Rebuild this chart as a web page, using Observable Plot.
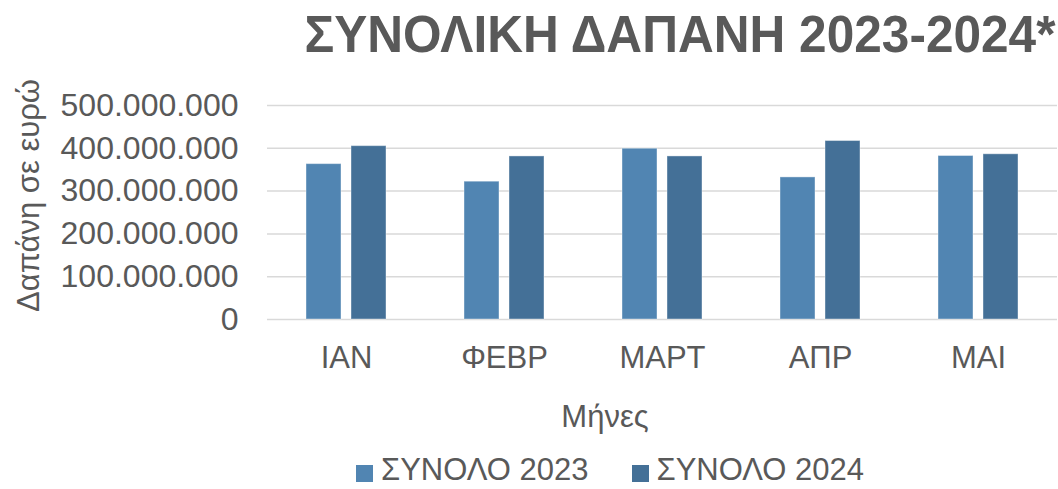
<!DOCTYPE html>
<html>
<head>
<meta charset="utf-8">
<script src="https://cdn.jsdelivr.net/npm/d3@7"></script>
<script src="https://cdn.jsdelivr.net/npm/@observablehq/plot@0.6"></script>
<style>
  html, body { margin: 0; padding: 0; background: #fff; }
  #wrap { position: relative; width: 1058px; height: 489px; font-family: "Liberation Sans", Arial, sans-serif; color: #595959; }
  #title { position: relative; height: 75px; }
  #title span { position: absolute; left: 680px; top: 9px; transform: translateX(-50%); white-space: nowrap; font-weight: bold; font-size: 51px; line-height: 51px; color: #595959; }
  #chart svg { display: block; }
  #legend { height: 49px; box-sizing: border-box; padding-top: 12px; padding-left: 356px; display: flex; align-items: flex-start; font-size: 31px; line-height: normal; white-space: nowrap; }
  #legend .item { display: flex; align-items: center; }
  #legend .sw { width: 17px; height: 17px; margin-right: 8px; margin-top: 6px; }
  #xlabel { position: absolute; left: 605px; top: 401px; transform: translateX(-50%); font-size: 31px; line-height: 31px; white-space: nowrap; }
  #ylabel { position: absolute; left: 0; top: 0; transform-origin: 0 0; transform: translate(13px, 312px) rotate(-90deg); font-size: 31px; line-height: 31px; white-space: nowrap; }
</style>
</head>
<body>
<div id="wrap">
  <div id="title"><span id="titleText"></span></div>
  <div id="chart"></div>
  <div id="legend"></div>
  <div id="xlabel"></div>
  <div id="ylabel"></div>
</div>
<script>
const titleText = "ΣΥΝΟΛΙΚΗ ΔΑΠΑΝΗ 2023-2024*";
const xLabel = "Μήνες";
const yLabel = "Δαπάνη σε ευρώ";
const months = ["ΙΑΝ", "ΦΕΒΡ", "ΜΑΡΤ", "ΑΠΡ", "ΜΑΙ"];
const series = ["ΣΥΝΟΛΟ 2023", "ΣΥΝΟΛΟ 2024"];
const total2023 = [363000000, 322000000, 399000000, 332000000, 382000000];
const total2024 = [405000000, 381000000, 381000000, 417000000, 386000000];
const yTicks = [0, 100000000, 200000000, 300000000, 400000000, 500000000];
const colors = ["#5185b2", "#447097"];

const data = months.flatMap((m, i) => [
  {month: m, series: series[0], value: total2023[i]},
  {month: m, series: series[1], value: total2024[i]}
]);

const fmt = d3.formatLocale({decimal: ",", thousands: ".", grouping: [3], currency: ["", "€"]}).format(",");

const titleEl = document.getElementById("titleText");
titleEl.textContent = titleText;
const tw = titleEl.getBoundingClientRect().width;
const ts = Math.min(1, 751 / tw);
titleEl.style.transform = `translateX(-50%) scaleX(${ts})`;

document.getElementById("xlabel").textContent = xLabel;
document.getElementById("ylabel").textContent = yLabel;

const chart = Plot.plot({
  width: 1058,
  height: 365,
  marginTop: 30,
  marginBottom: 121,
  marginLeft: 267,
  marginRight: 1,
  style: {fontFamily: "'Liberation Sans', Arial, sans-serif", fontSize: "31px", color: "#595959", background: "white"},
  fx: {domain: months, padding: 0, label: null},
  x: {domain: series, paddingInner: 0.214, paddingOuter: 0.844, axis: null},
  y: {domain: [0, 500000000], label: null},
  color: {domain: series, range: colors},
  marks: [
    Plot.gridY(yTicks, {stroke: "#d9d9d9", strokeOpacity: 1, strokeWidth: 1.5}),
    Plot.barY(data, {fx: "month", x: "series", y: "value", fill: "series", stroke: "white", strokeOpacity: 0.4, strokeWidth: 1}),
    Plot.axisY(yTicks, {tickSize: 0, tickPadding: 29, tickFormat: fmt, label: null, fontSize: 32}),
    Plot.axisFx({anchor: "bottom", tickSize: 0, tickPadding: 26, label: null})
  ]
});
document.getElementById("chart").appendChild(chart);

const legend = document.getElementById("legend");
series.forEach((s, i) => {
  const item = document.createElement("div");
  item.className = "item";
  if (i > 0) item.style.marginLeft = "43px";
  const sw = document.createElement("div");
  sw.className = "sw";
  sw.style.background = colors[i];
  const t = document.createElement("span");
  t.textContent = s;
  item.appendChild(sw);
  item.appendChild(t);
  legend.appendChild(item);
});
</script>
</body>
</html>
